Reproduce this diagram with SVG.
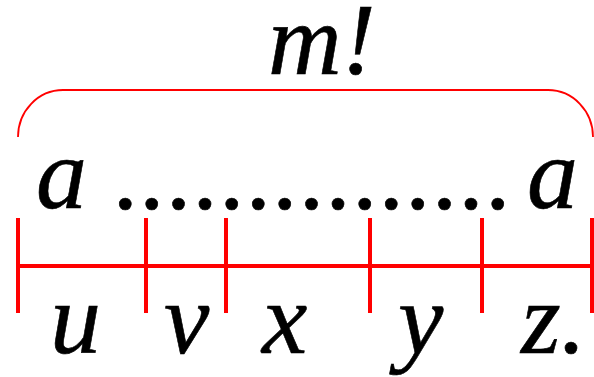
<svg xmlns="http://www.w3.org/2000/svg" width="594" height="377" viewBox="0 0 594 377">
<style>
.t{font-family:"Liberation Serif","Times New Roman",serif;font-style:italic;font-size:102px;fill:#000;stroke:#000;stroke-width:0.6}
.tick{stroke:#ff0000;stroke-width:4;fill:none}
.brace{stroke:#ff0000;stroke-width:1.8;fill:none}
</style>
<rect width="594" height="377" fill="#fff"/>
<g id="connectors">
<path id="brace" class="brace" d="M18,137 A45,47 0 0 1 63,90 L548,90 A45,47 0 0 1 593,137"/>
<line class="tick" x1="16" y1="266" x2="594" y2="266"/>
<line class="tick" x1="18" y1="218" x2="18" y2="313"/>
<line class="tick" x1="146" y1="218" x2="146" y2="313"/>
<line class="tick" x1="226" y1="218" x2="226" y2="313"/>
<line class="tick" x1="370" y1="218" x2="370" y2="313"/>
<line class="tick" x1="482" y1="218" x2="482" y2="313"/>
<line class="tick" x1="592" y1="218" x2="592" y2="313"/>
</g>
<g id="label-m"><text class="t" x="268" y="74">m!</text></g>
<g id="string">
<text class="t" x="36" y="208">a</text>
<text class="t" x="115" y="209" letter-spacing="1.1">...............</text>
<text class="t" x="527" y="208">a</text>
</g>
<g id="labels">
<text class="t" x="50" y="353">u</text>
<text class="t" x="164" y="353">v</text>
<text class="t" x="262" y="353">x</text>
<text class="t" x="398" y="353">y</text>
<text class="t" x="521" y="353">z.</text>
</g>
</svg>
